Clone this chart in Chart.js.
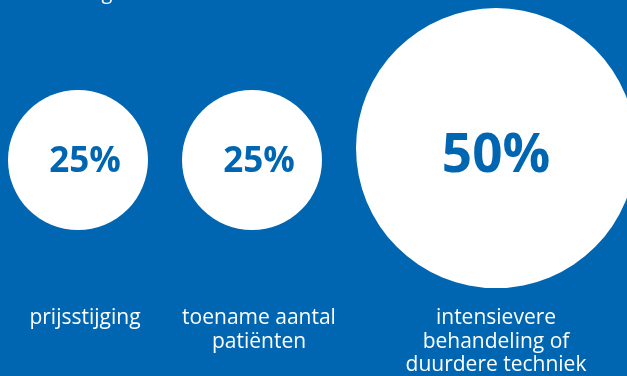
<!DOCTYPE html>
<html>
<head>
<meta charset="utf-8">
<script src="https://cdn.jsdelivr.net/npm/chart.js@4.4.1/dist/chart.umd.min.js"></script>
<style>
  body { margin: 0; background: #0066b2; }
  canvas { display: block; }
</style>
</head>
<body>
<canvas id="myChart" width="627" height="376"></canvas>
<script>
// share of the cost growth per cause
const causes = [
  ['prijsstijging'],
  ['toename aantal', 'patiënten'],
  ['intensievere', 'behandeling of', 'duurdere techniek']
];
const shares = [25, 25, 50];
const headingTail = 'g';

const BLUE = '#0066b2';
const PX_PER_PCT = 2.8;   // disc radius grows linearly with the share
const LEFT = 8, GAP = 34, ROW_Y = 160;
const VALUE_BASE = 172, LABEL_BASE = 324, LINE_H = 23.5;

// lay the discs out left to right, big ones sit a bit higher
function layout() {
  let edge = LEFT;
  return shares.map((v) => {
    const r = v * PX_PER_PCT;
    const x = edge + r;
    edge = x + r + GAP;
    return { x: x, y: ROW_Y - (r - 70) * 0.17, r: r, v: v };
  });
}

const textPlugin = {
  id: 'discText',
  beforeDraw(chart) {
    const c = chart.ctx;
    c.save();
    c.fillStyle = BLUE;
    c.fillRect(0, 0, chart.width, chart.height);
    c.restore();
  },
  afterDatasetsDraw(chart) {
    const c = chart.ctx;
    const meta = chart.getDatasetMeta(0);
    c.save();
    c.textAlign = 'center';
    c.textBaseline = 'alphabetic';
    meta.data.forEach((pt, i) => {
      const raw = chart.data.datasets[0].data[i];
      const shift = (140 - raw.r) * 0.1;
      c.fillStyle = BLUE;
      c.font = 'bold ' + Math.round(17 + 0.26 * raw.r) + 'px "Open Sans"';
      c.fillText(raw.v + '%', pt.x + shift, VALUE_BASE);
      c.fillStyle = '#ffffff';
      c.font = '21px "Open Sans"';
      causes[i].forEach((line, j) => {
        c.fillText(line, pt.x + shift, LABEL_BASE + j * LINE_H);
      });
    });
    // tail of the heading above
    c.font = '20px "Open Sans"';
    c.fillText(headingTail, 107, -1);
    c.restore();
  }
};

const ctx = document.getElementById('myChart').getContext('2d');
const myChart = new Chart(ctx, {
  type: 'bubble',
  data: {
    datasets: [{
      data: layout(),
      backgroundColor: '#ffffff',
      borderWidth: 0,
      hoverRadius: 0,
      clip: false
    }]
  },
  options: {
    responsive: false,
    animation: false,
    events: [],
    layout: { padding: 0, autoPadding: false },
    plugins: { legend: { display: false }, tooltip: { enabled: false } },
    scales: {
      x: { type: 'linear', min: 0, max: 627, display: false },
      y: { type: 'linear', min: 0, max: 376, reverse: true, display: false }
    }
  },
  plugins: [textPlugin]
});
</script>
</body>
</html>
